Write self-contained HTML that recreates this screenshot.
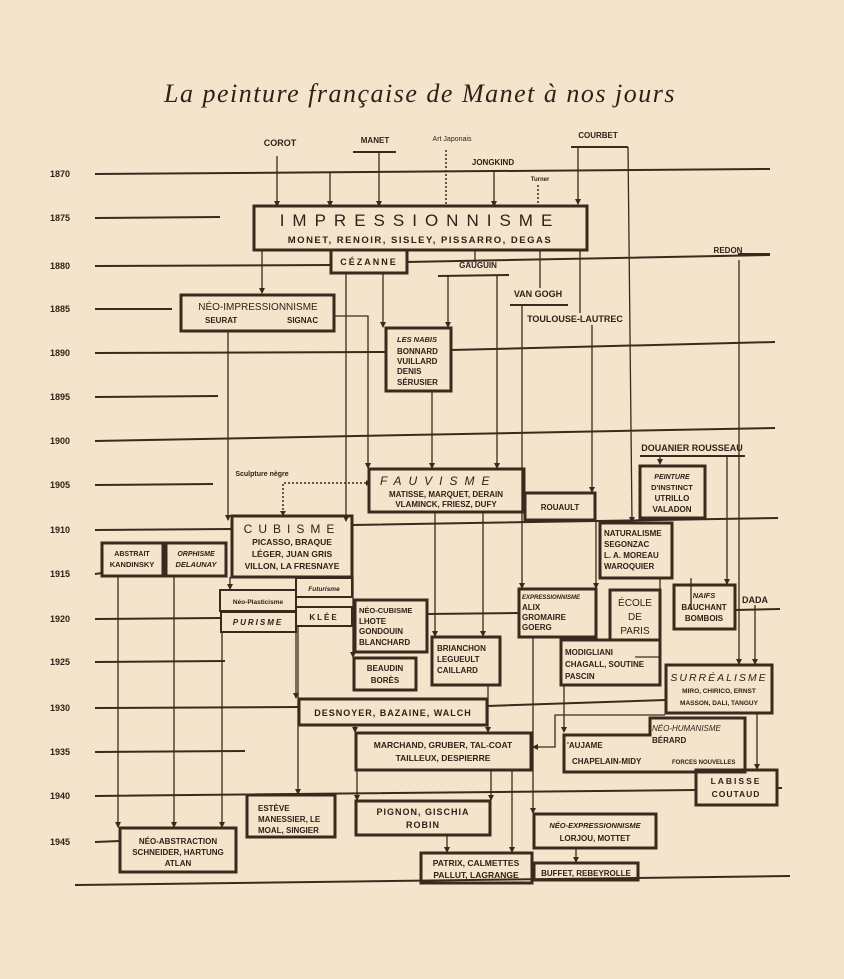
<!DOCTYPE html>
<html><head><meta charset="utf-8"><style>
html,body{margin:0;padding:0;background:#f5e4cc;}
svg{display:block}
text{font-family:"Liberation Sans",sans-serif;font-weight:bold;fill:#2e2218;font-size:9px}
.y{font-size:8px}
.b{fill:none;stroke:#3a2a1e;stroke-width:3}
.l{stroke:#3a2a1e;stroke-width:1.3;fill:none}
.t{stroke:#3a2a1e;stroke-width:2;fill:none}
.d{stroke:#3a2a1e;stroke-width:1.5;fill:none;stroke-dasharray:2 2}
.m{text-anchor:middle}
</style></head><body>
<svg width="844" height="979" viewBox="0 0 844 979" xmlns="http://www.w3.org/2000/svg">
<defs>
<marker id="r" markerWidth="6" markerHeight="6" refX="5" refY="3" orient="auto" markerUnits="userSpaceOnUse"><path d="M0,0 L6,3 L0,6 Z" fill="#3a2a1e"/></marker></defs>
<rect width="844" height="979" fill="#f5e4cc"/>
<text x="420" y="102" class="m" style="font-family:'Liberation Serif',serif;font-style:italic;font-weight:normal;font-size:26px;letter-spacing:1.5px">La peinture française de Manet à nos jours</text>

<!-- year lines -->
<g class="t">
<path d="M95 174 L770 169"/><path d="M95 218 L220 217"/><path d="M95 266 L331 265 M407 262 L770 255"/>
<path d="M95 309 L172 309"/><path d="M95 353 L386 352 M451 350 L775 342"/><path d="M95 397 L218 396"/>
<path d="M95 441 L775 428"/><path d="M95 485 L213 484"/><path d="M95 530 L232 529 M352 525 L778 518"/>
<path d="M95 574 L102 573"/><path d="M95 619 L220 618 M427 614 L519 613 M735 610 L780 609"/>
<path d="M95 662 L225 661"/><path d="M95 708 L299 707 M487 706 L666 700"/><path d="M95 752 L245 751"/>
<path d="M95 796 L696 790 M777 788 L782 788"/><path d="M95 842 L120 841"/><path d="M75 885 L790 876"/>
</g>
<g class="y">
<text x="50" y="177">1870</text><text x="50" y="221">1875</text><text x="50" y="269">1880</text><text x="50" y="312">1885</text>
<text x="50" y="356">1890</text><text x="50" y="400">1895</text><text x="50" y="444">1900</text><text x="50" y="488">1905</text>
<text x="50" y="533">1910</text><text x="50" y="577">1915</text><text x="50" y="622">1920</text><text x="50" y="665">1925</text>
<text x="50" y="711">1930</text><text x="50" y="755">1935</text><text x="50" y="799">1940</text><text x="50" y="845">1945</text>
</g>

<!-- top labels -->
<text x="280" y="146" class="m">COROT</text><text x="375" y="143" class="m" style="font-size:8px">MANET</text>
<text x="452" y="141" class="m" style="font-size:7px;font-weight:normal">Art Japonais</text>
<text x="598" y="138" class="m" style="font-size:8px">COURBET</text>
<text x="493" y="165" class="m" style="font-size:8px">JONGKIND</text>
<text x="540" y="181" class="m" style="font-size:6px">Turner</text>
<text x="478" y="268" class="m" style="font-size:8px">GAUGUIN</text>
<text x="538" y="297" class="m">VAN GOGH</text>
<text x="575" y="322" class="m">TOULOUSE-LAUTREC</text>
<text x="728" y="253" class="m" style="font-size:8px">REDON</text>
<text x="692" y="451" class="m">DOUANIER ROUSSEAU</text>
<text x="262" y="476" class="m" style="font-size:7px">Sculpture nègre</text>
<text x="755" y="603" class="m">DADA</text>
<g class="t"><path d="M353 152 L396 152"/><path d="M571 147 L628 147"/><path d="M438 276 L509 275"/><path d="M510 305 L568 305"/><path d="M640 456 L745 456"/><path d="M738 254 L770 254"/></g>

<!-- connectors -->
<g class="l" marker-end="url(#r)">
<path d="M277 156 L277 206"/><path d="M330 173 L330 206"/><path d="M379 152 L379 206"/><path d="M494 170 L494 206"/><path d="M578 147 L578 204"/>
<path d="M262 250 L262 293"/><path d="M346 273 L346 521"/><path d="M383 273 L383 327"/><path d="M448 276 L448 327"/><path d="M497 276 L497 468"/>
<path d="M522 305 L522 588"/><path d="M592 325 L592 492"/><path d="M228 332 L228 520"/><path d="M334 316 L368 316 L368 468"/>
<path d="M432 392 L432 468"/><path d="M739 260 L739 664"/><path d="M660 456 L660 464"/><path d="M727 456 L727 584"/>
<path d="M628 147 L632 522"/><path d="M435 513 L435 636"/><path d="M483 513 L483 636"/><path d="M596 520 L596 588"/>
<path d="M230 577 L230 589"/><path d="M353 577 L353 657"/><path d="M296 597 L296 698"/>
<path d="M118 576 L118 827"/><path d="M174 576 L174 827"/><path d="M222 632 L222 827"/><path d="M298 626 L298 794"/>
<path d="M488 685 L488 732"/><path d="M355 725 L355 732"/><path d="M357 770 L357 800"/><path d="M491 770 L491 800"/>
<path d="M447 835 L447 852"/><path d="M512 770 L512 852"/><path d="M533 637 L533 813"/><path d="M576 848 L576 862"/>
<path d="M564 685 L564 732"/><path d="M757 713 L757 769"/><path d="M755 605 L755 664"/>
</g>
<g class="l"><path d="M475 250 L475 262"/><path d="M540 250 L540 288"/><path d="M580 250 L580 313"/><path d="M660 578 L660 657 L635 657"/><path d="M632 518 L632 522"/>
<path d="M691 578 L691 610"/></g>
<path class="l" marker-end="url(#r)" d="M665 715 L555 715 L555 747 L533 747"/>
<g class="d"><path d="M446 150 L446 204"/><path d="M538 185 L538 204"/><path d="M283 514 L283 483 L366 483"/></g>
<path d="M366 480 L370 483 L366 486Z" fill="#3a2a1e"/><path d="M280 511 L283 516 L286 511Z" fill="#3a2a1e"/>

<!-- boxes -->
<g class="b">
<rect x="254" y="206" width="333" height="44"/>
<rect x="331" y="250" width="76" height="23"/>
<rect x="181" y="295" width="153" height="36"/>
<rect x="386" y="328" width="65" height="63"/>
<rect x="369" y="469" width="155" height="43"/>
<rect x="525" y="493" width="70" height="27"/>
<rect x="640" y="466" width="65" height="52"/>
<rect x="232" y="516" width="120" height="61"/>
<rect x="102" y="543" width="61" height="33"/>
<rect x="166" y="543" width="60" height="33"/>
<rect x="296" y="578" width="56" height="19" style="stroke-width:2"/>
<rect x="220" y="590" width="76" height="21" style="stroke-width:2"/>
<rect x="221" y="612" width="75" height="20" style="stroke-width:2"/>
<rect x="296" y="607" width="56" height="19" style="stroke-width:2"/>
<rect x="355" y="600" width="72" height="52"/>
<rect x="354" y="658" width="62" height="32"/>
<rect x="432" y="637" width="68" height="48"/>
<rect x="299" y="699" width="188" height="26"/>
<rect x="356" y="733" width="175" height="37"/>
<rect x="247" y="795" width="88" height="42"/>
<rect x="356" y="801" width="134" height="34"/>
<rect x="120" y="828" width="116" height="44"/>
<rect x="421" y="853" width="111" height="30"/>
<rect x="534" y="863" width="104" height="17"/>
<rect x="534" y="814" width="122" height="34"/>
<rect x="519" y="589" width="77" height="48"/>
<rect x="610" y="590" width="50" height="50"/>
<rect x="561" y="640" width="99" height="45"/>
<rect x="600" y="523" width="72" height="55"/>
<rect x="674" y="585" width="61" height="44"/>
<rect x="666" y="665" width="106" height="48"/>
<path d="M564 772 L564 735 L650 735 L650 718 L745 718 L745 772 Z"/>
<rect x="696" y="770" width="81" height="35"/>
</g>

<!-- box text -->
<text x="420" y="226" class="m" style="font-size:17px;font-weight:normal;letter-spacing:8px">IMPRESSIONNISME</text>
<text x="420" y="243" class="m" style="font-size:9.5px;letter-spacing:1.5px">MONET, RENOIR, SISLEY, PISSARRO, DEGAS</text>
<text x="369" y="265" class="m" style="letter-spacing:2px">CÉZANNE</text>
<text x="258" y="310" class="m" style="font-size:10px;font-weight:normal">NÉO-IMPRESSIONNISME</text>
<text x="205" y="323" style="font-size:8px">SEURAT</text><text x="287" y="323" style="font-size:8px">SIGNAC</text>
<g style="font-size:8px"><text x="397" y="342" style="font-size:7.5px;font-style:italic">LES NABIS</text><text x="397" y="354" style="font-size:8px">BONNARD</text><text x="397" y="364" style="font-size:8px">VUILLARD</text><text x="397" y="374" style="font-size:8px">DENIS</text><text x="397" y="385" style="font-size:8px">SÉRUSIER</text></g>
<text x="380" y="485" style="font-size:12px;font-weight:normal;font-style:italic;letter-spacing:7px">FAUVISME</text>
<text x="446" y="497" class="m" style="font-size:8px">MATISSE, MARQUET, DERAIN</text>
<text x="446" y="507" class="m" style="font-size:8px">VLAMINCK, FRIESZ, DUFY</text>
<text x="560" y="510" class="m" style="font-size:8px">ROUAULT</text>
<g style="font-size:7.5px"><text x="672" y="479" class="m" style="font-size:7px;font-style:italic">PEINTURE</text><text x="672" y="490" class="m" style="font-size:7.5px">D'INSTINCT</text><text x="672" y="501" class="m" style="font-size:8px">UTRILLO</text><text x="672" y="512" class="m" style="font-size:8px">VALADON</text></g>
<text x="292" y="533" class="m" style="font-size:12px;font-weight:normal;letter-spacing:6px">CUBISME</text>
<text x="292" y="545" class="m" style="font-size:8.5px">PICASSO, BRAQUE</text>
<text x="292" y="557" class="m" style="font-size:8.5px">LÉGER, JUAN GRIS</text>
<text x="292" y="569" class="m" style="font-size:8.5px">VILLON, LA FRESNAYE</text>
<text x="132" y="556" class="m" style="font-size:7px">ABSTRAIT</text><text x="132" y="567" class="m" style="font-size:7.5px">KANDINSKY</text>
<text x="196" y="556" class="m" style="font-size:7px;font-style:italic">ORPHISME</text><text x="196" y="567" class="m" style="font-size:7.5px;font-style:italic">DELAUNAY</text>
<text x="324" y="591" class="m" style="font-size:6.5px;font-style:italic">Futurisme</text>
<text x="258" y="604" class="m" style="font-size:6.5px">Néo-Plasticisme</text>
<text x="258" y="625" class="m" style="font-size:8px;font-style:italic;letter-spacing:2px">PURISME</text>
<text x="324" y="620" class="m" style="font-size:8px;letter-spacing:2px">KLÉE</text>
<g style="font-size:8px"><text x="359" y="613" style="font-size:7.5px">NÉO-CUBISME</text><text x="359" y="624" style="font-size:8px">LHOTE</text><text x="359" y="634" style="font-size:8px">GONDOUIN</text><text x="359" y="645" style="font-size:8px">BLANCHARD</text></g>
<text x="385" y="671" class="m" style="font-size:8px">BEAUDIN</text><text x="385" y="683" class="m" style="font-size:8px">BORÈS</text>
<text x="437" y="651" style="font-size:8px">BRIANCHON</text><text x="437" y="662" style="font-size:8px">LEGUEULT</text><text x="437" y="673" style="font-size:8px">CAILLARD</text>
<text x="393" y="716" class="m" style="font-size:9px;letter-spacing:1px">DESNOYER, BAZAINE, WALCH</text>
<text x="443" y="748" class="m" style="font-size:8.5px">MARCHAND, GRUBER, TAL-COAT</text>
<text x="443" y="761" class="m" style="font-size:8.5px">TAILLEUX, DESPIERRE</text>
<text x="258" y="811" style="font-size:8px">ESTÈVE</text><text x="258" y="822" style="font-size:8px">MANESSIER, LE</text><text x="258" y="833" style="font-size:8px">MOAL, SINGIER</text>
<text x="423" y="815" class="m" style="font-size:9px;letter-spacing:1px">PIGNON, GISCHIA</text><text x="423" y="828" class="m" style="font-size:9px;letter-spacing:1px">ROBIN</text>
<text x="178" y="844" class="m" style="font-size:8px">NÉO-ABSTRACTION</text><text x="178" y="855" class="m" style="font-size:8px">SCHNEIDER, HARTUNG</text><text x="178" y="866" class="m" style="font-size:8px">ATLAN</text>
<text x="476" y="866" class="m" style="font-size:8.5px">PATRIX, CALMETTES</text><text x="476" y="878" class="m" style="font-size:8.5px">PALLUT, LAGRANGE</text>
<text x="586" y="876" class="m" style="font-size:8px">BUFFET, REBEYROLLE</text>
<text x="595" y="828" class="m" style="font-size:7.5px;font-style:italic">NÉO-EXPRESSIONNISME</text><text x="595" y="841" class="m" style="font-size:8px">LORJOU, MOTTET</text>
<text x="522" y="599" style="font-size:6px;font-style:italic">EXPRESSIONNISME</text><text x="522" y="610" style="font-size:8px">ALIX</text><text x="522" y="620" style="font-size:8px">GROMAIRE</text><text x="522" y="630" style="font-size:8px">GOERG</text>
<text x="635" y="606" class="m" style="font-size:10px;font-weight:normal">ÉCOLE</text><text x="635" y="620" class="m" style="font-size:10px;font-weight:normal">DE</text><text x="635" y="634" class="m" style="font-size:10px;font-weight:normal">PARIS</text>
<text x="565" y="655" style="font-size:8px">MODIGLIANI</text><text x="565" y="667" style="font-size:8px">CHAGALL, SOUTINE</text><text x="565" y="679" style="font-size:8px">PASCIN</text>
<text x="604" y="536" style="font-size:8px">NATURALISME</text><text x="604" y="547" style="font-size:8px">SEGONZAC</text><text x="604" y="558" style="font-size:8px">L. A. MOREAU</text><text x="604" y="569" style="font-size:8px">WAROQUIER</text>
<text x="704" y="598" class="m" style="font-size:7.5px;font-style:italic">NAIFS</text><text x="704" y="610" class="m" style="font-size:8px">BAUCHANT</text><text x="704" y="621" class="m" style="font-size:8px">BOMBOIS</text>
<text x="719" y="681" class="m" style="font-size:10.5px;font-weight:normal;font-style:italic;letter-spacing:2px">SURRÉALISME</text>
<text x="719" y="693" class="m" style="font-size:6.5px">MIRO, CHIRICO, ERNST</text><text x="719" y="705" class="m" style="font-size:6.5px">MASSON, DALI, TANGUY</text>
<text x="652" y="731" style="font-size:8px;font-style:italic;font-weight:normal">NÉO-HUMANISME</text><text x="652" y="743" style="font-size:8px">BÉRARD</text>
<text x="567" y="748" style="font-size:8px">'AUJAME</text><text x="572" y="764" style="font-size:8px">CHAPELAIN-MIDY</text><text x="672" y="764" style="font-size:6px">FORCES NOUVELLES</text>
<text x="736" y="784" class="m" style="font-size:8.5px;letter-spacing:2px">LABISSE</text><text x="736" y="797" class="m" style="font-size:8.5px;letter-spacing:1px">COUTAUD</text>
</svg>
</body></html>
